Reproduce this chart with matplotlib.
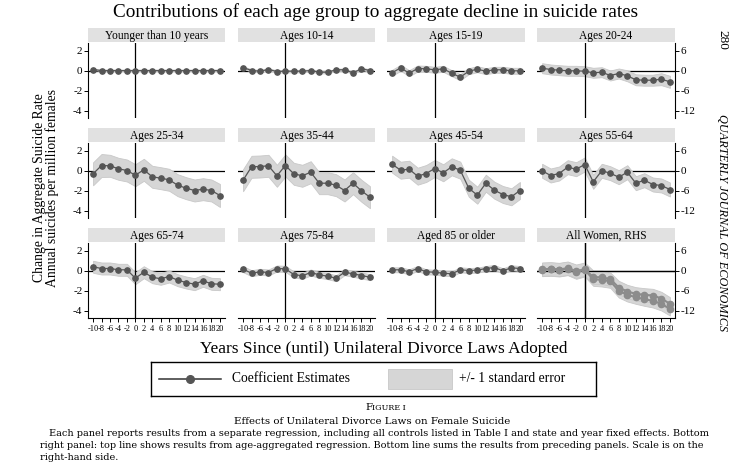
import matplotlib
matplotlib.use("Agg")
import matplotlib.pyplot as plt
from matplotlib.patches import Rectangle

plt.rcParams['font.family'] = ['Liberation Serif', 'DejaVu Serif']

W, H = 743, 466

years = [-10, -8, -6, -4, -2, 0, 2, 4, 6, 8, 10, 12, 14, 16, 18, 20]
xticks = list(range(-10, 21, 2))
left_ticks = [2, 0, -2, -4]
right_ticks = [6, 0, -6, -12]

titles = ["Younger than 10 years", "Ages 10-14", "Ages 15-19", "Ages 20-24",
          "Ages 25-34", "Ages 35-44", "Ages 45-54", "Ages 55-64",
          "Ages 65-74", "Ages 75-84", "Aged 85 or older", "All Women, RHS"]

coef_u10 = [0.1, 0, 0, 0, 0, 0, 0, 0, 0, 0, 0, 0, 0, 0, 0, 0]
se_u10 = [0.05] * 16
coef_10_14 = [0.3, 0, -0.07, 0.1, -0.1, -0.07, -0.07, -0.07, 0, -0.17, -0.17, 0.07, 0.07, -0.23, 0.17, 0]
se_10_14 = [0.12] * 16
coef_15_19 = [-0.23, 0.27, -0.27, 0.2, 0.17, 0.07, 0.17, -0.27, -0.67, -0.07, 0.13, -0.07, 0.07, 0.07, -0.03, -0.03]
se_15_19 = [0.3] * 16
coef_20_24 = [0.23, 0.1, 0.03, -0.03, -0.03, -0.07, -0.23, -0.17, -0.5, -0.3, -0.53, -0.93, -0.97, -0.97, -0.87, -1.13]
se_20_24 = [0.5, 0.5, 0.5, 0.5, 0.5, 0.5, 0.5, 0.5, 0.5, 0.5, 0.55, 0.55, 0.55, 0.55, 0.6, 0.6]
coef_25_34 = [-0.33, 0.5, 0.47, 0.17, 0, -0.47, 0.07, -0.63, -0.77, -0.93, -1.47, -1.77, -2.0, -1.87, -2.0, -2.5]
se_25_34 = [1.15, 1.15, 1.1, 1.1, 1.1, 1.1, 1.1, 1.1, 1.1, 1.1, 1.1, 1.1, 1.1, 1.1, 1.1, 1.15]
coef_35_44 = [-0.97, 0.37, 0.4, 0.47, -0.53, 0.5, -0.33, -0.53, -0.17, -1.27, -1.27, -1.47, -2.0, -1.27, -2.03, -2.67]
se_35_44 = [1.1] * 16
coef_45_54 = [0.63, 0.03, 0.13, -0.57, -0.3, 0.2, -0.23, 0.37, 0.03, -1.77, -2.47, -1.27, -1.97, -2.4, -2.63, -2.0]
se_45_54 = [0.85] * 16
coef_55_64 = [-0.03, -0.5, -0.3, 0.33, 0.13, 0.6, -1.13, -0.03, -0.27, -0.67, -0.17, -1.27, -0.97, -1.4, -1.5, -1.9]
se_55_64 = [0.7] * 16
coef_65_74 = [0.37, 0.2, 0.2, 0.07, 0.07, -0.77, -0.17, -0.67, -0.83, -0.6, -0.97, -1.2, -1.37, -1.03, -1.33, -1.37]
se_65_74 = [0.6] * 16
coef_75_84 = [0.13, -0.27, -0.13, -0.2, 0.2, 0.17, -0.4, -0.53, -0.2, -0.43, -0.57, -0.77, -0.17, -0.33, -0.5, -0.67]
se_75_84 = [0.3] * 16
coef_85 = [0.07, 0.07, -0.13, 0.2, -0.13, -0.17, -0.27, -0.33, 0.07, 0, 0.03, 0.2, 0.3, -0.03, 0.27, 0.2]
se_85 = [0.25] * 16
# All women panel, right-hand scale
coef_all_agg = [0.4, 0.5, 0.3, 0.7, -0.2, 0.4, -2.0, -2.0, -2.6, -5.1, -6.3, -7.0, -7.3, -7.5, -8.4, -10.0]
se_all_agg = [2.0] * 16
coef_all_sum = [0.3, 0.4, 0.2, 0.6, -0.5, 0.2, -2.6, -2.8, -3.2, -6.1, -7.3, -8.0, -8.6, -9.1, -10.0, -11.5]
se_all_sum = [2.0] * 16

panels = [(coef_u10, se_u10), (coef_10_14, se_10_14), (coef_15_19, se_15_19), (coef_20_24, se_20_24),
          (coef_25_34, se_25_34), (coef_35_44, se_35_44), (coef_45_54, se_45_54), (coef_55_64, se_55_64),
          (coef_65_74, se_65_74), (coef_75_84, se_75_84), (coef_85, se_85), None]

legend_labels = ["Coefficient Estimates", "+/- 1 standard error"]

YLIM = (-4.75, 2.75)
XLIM = (-11.2, 21.2)
BAND = "#d6d6d6"
BAND_EDGE = "#c8c8c8"
LINEC = "#333333"
MARKC = "#555555"
STRIP = "#e1e1e1"

col_x = [(88, 225), (238, 375), (387, 525), (537, 675)]
row_y = [(43, 118), (143, 218), (243, 318)]
STRIP_H = 15

fig = plt.figure(figsize=(W / 100, H / 100), dpi=100)


def rect(x0, y0, x1, y1):
    return [x0 / W, 1 - y1 / H, (x1 - x0) / W, (y1 - y0) / H]


def draw_series(ax, coef, se, color, ms, lw, zo):
    lo = [c - s for c, s in zip(coef, se)]
    hi = [c + s for c, s in zip(coef, se)]
    ax.fill_between(years, lo, hi, color=BAND, lw=0.6, edgecolor=BAND_EDGE, zorder=1)
    ax.plot(years, coef, color=color, lw=lw, marker="o", ms=ms, mfc=color, mec=color, zorder=zo)


for i in range(12):
    r, c = divmod(i, 4)
    x0, x1 = col_x[c]
    y0, y1 = row_y[r]
    ax = fig.add_axes(rect(x0, y0, x1, y1))
    ax.set_xlim(*XLIM)
    ax.set_ylim(*YLIM)
    for s in ax.spines.values():
        s.set_visible(False)
    ax.axhline(0, color="black", lw=0.9, zorder=0.5)
    ax.axvline(0, color="black", lw=0.9, zorder=2)
    ax.tick_params(axis="both", which="both", length=0, labelleft=False, labelbottom=False)
    ax.set_yticks([])
    ax.set_xticks([])
    if c == 0:
        ax.spines["left"].set_visible(True)
        ax.spines["left"].set_linewidth(0.8)
        ax.set_yticks(left_ticks)
        ax.set_yticklabels([str(t) for t in left_ticks])
        ax.tick_params(axis="y", length=3, width=0.7, labelleft=True, labelsize=8, pad=1)
    if r == 2:
        ax.spines["bottom"].set_visible(True)
        ax.spines["bottom"].set_linewidth(0.8)
        ax.set_xticks(xticks)
        ax.set_xticklabels([str(t) for t in xticks])
        ax.tick_params(axis="x", length=3, width=0.7, labelbottom=True, labelsize=6, pad=2)
    if c == 3:
        ax2 = ax.twinx()
        ax2.set_xlim(*XLIM)
        ax2.set_ylim(YLIM[0] * 3, YLIM[1] * 3)
        for s in ax2.spines.values():
            s.set_visible(False)
        ax2.spines["right"].set_visible(True)
        ax2.spines["right"].set_linewidth(0.8)
        ax2.set_yticks(right_ticks)
        ax2.set_yticklabels([str(t) for t in right_ticks])
        ax2.tick_params(axis="y", length=3, width=0.7, labelsize=8, pad=1)
        ax2.patch.set_visible(False)
    if panels[i] is not None:
        coef, se = panels[i]
        draw_series(ax, coef, se, MARKC, 3.8, 0.9, 3)
    else:
        draw_series(ax2, coef_all_sum, se_all_sum, "#8c8c8c", 4.5, 1.5, 3)
        draw_series(ax2, coef_all_agg, se_all_agg, "#8c8c8c", 4.5, 1.5, 4)
        ax2.axvline(0, color="black", lw=0.9, zorder=2)
        ax2.axhline(0, color="black", lw=0.9, zorder=2)
    # strip
    sax = fig.add_axes(rect(x0, y0 - STRIP_H, x1, y0 - 1))
    sax.set_facecolor(STRIP)
    sax.set_xticks([]); sax.set_yticks([])
    for s in sax.spines.values():
        s.set_visible(False)
    sax.text(0.5, 0.45, titles[i], ha="center", va="center", fontsize=8.3, transform=sax.transAxes)

fig.text(376 / W, 1 - 12 / H, "Contributions of each age group to aggregate decline in suicide rates",
         ha="center", va="center", fontsize=13.8)
fig.text(40 / W, 1 - 188 / H, "Change in Aggregate Suicide Rate", rotation=90,
         ha="center", va="center", fontsize=9.8)
fig.text(52 / W, 1 - 188 / H, "Annual suicides per million females", rotation=90,
         ha="center", va="center", fontsize=9.8)
fig.text(384 / W, 1 - 349 / H, "Years Since (until) Unilateral Divorce Laws Adopted",
         ha="center", va="center", fontsize=12.4)

# legend box drawn in its own axes (pixel layout)
lx0, ly0, lx1, ly1 = 151, 362, 596, 396
lax = fig.add_axes(rect(lx0, ly0, lx1, ly1))
lax.set_xlim(lx0, lx1)
lax.set_ylim(ly1, ly0)
lax.set_xticks([]); lax.set_yticks([])
for s in lax.spines.values():
    s.set_linewidth(1.0)
    s.set_color("black")
ymid = (ly0 + ly1) / 2
lax.plot([159, 221], [ymid, ymid], color=LINEC, lw=1.1)
lax.plot([190], [ymid], marker="o", ms=5.5, color=MARKC)
lax.text(232, ymid, legend_labels[0], ha="left", va="center", fontsize=9.8)
lax.add_patch(Rectangle((388, ymid - 10), 64, 20, facecolor=BAND, edgecolor=BAND_EDGE, lw=0.6))
lax.text(459, ymid, legend_labels[1], ha="left", va="center", fontsize=9.8)

fig.text(372 / W, 1 - 408 / H, "F", ha="right", va="center", fontsize=7.2, family="DejaVu Serif")
fig.text(372 / W, 1 - 408 / H, "IGURE I", ha="left", va="center", fontsize=5.8, family="DejaVu Serif")
fig.text(372 / W, 1 - 421 / H, "Effects of Unilateral Divorce Laws on Female Suicide", ha="center",
         va="center", fontsize=7.4, family="DejaVu Serif")
fig.text(49 / W, 1 - 434 / H, "Each panel reports results from a separate regression, including all controls "
         "listed in Table I and state and year fixed effects. Bottom", ha="left", va="center",
         fontsize=7.0, family="DejaVu Serif")
fig.text(40 / W, 1 - 446 / H, "right panel: top line shows results from age-aggregated regression. "
         "Bottom line sums the results from preceding panels. Scale is on the", ha="left", va="center",
         fontsize=6.95, family="DejaVu Serif")
fig.text(40 / W, 1 - 458 / H, "right-hand side.", ha="left", va="center", fontsize=7.0, family="DejaVu Serif")

fig.text(722 / W, 1 - 40 / H, "280", rotation=-90, ha="center", va="center", fontsize=9.5)
fig.text(722 / W, 1 - 222 / H, "QUARTERLY JOURNAL OF ECONOMICS", rotation=-90, ha="center",
         va="center", fontsize=8.8, style="italic")

fig.savefig("out.png", dpi=100)
